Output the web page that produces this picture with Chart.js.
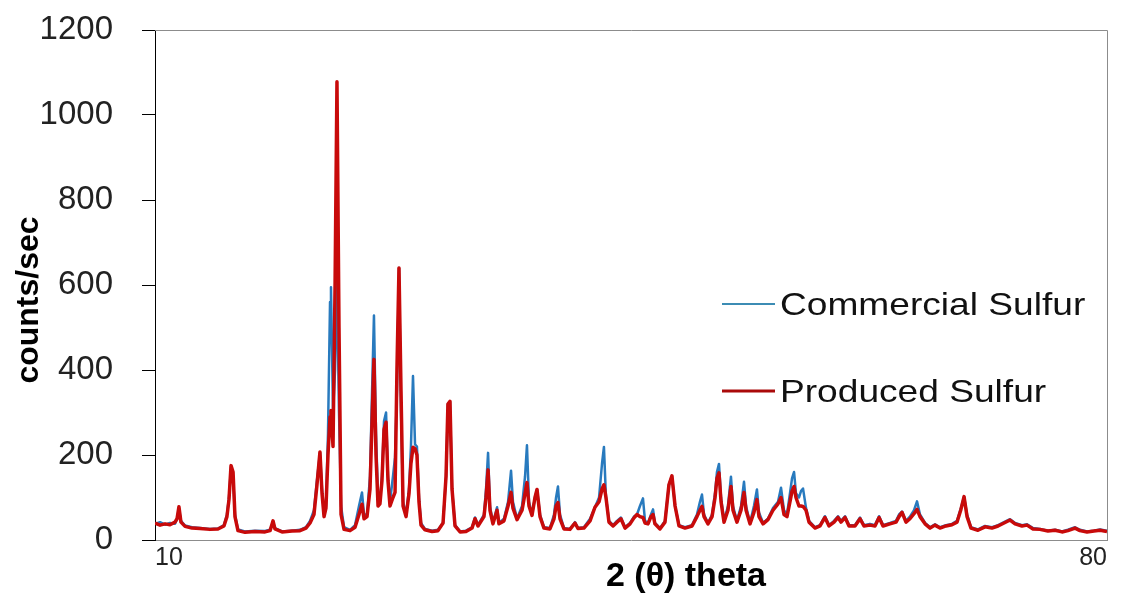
<!DOCTYPE html>
<html>
<head>
<meta charset="utf-8">
<script src="https://cdn.jsdelivr.net/npm/chart.js@4"></script>
<style>
  html, body { margin: 0; padding: 0; background: #fff; }
  #wrap { width: 1122px; height: 599px; position: relative; }
</style>
</head>
<body>
<div id="wrap"><canvas id="xrd"></canvas></div>
<script>
// 2 theta positions
const twoTheta = [
  10.00, 10.37, 10.74, 11.10, 11.47, 11.62, 11.76, 11.91, 12.21, 12.72, 13.31, 14.04, 14.63, 15.07, 15.29, 15.44,
  15.59, 15.74, 15.88, 16.10, 16.62, 17.35, 18.09, 18.46, 18.68, 18.82, 19.34, 20.07, 20.66, 21.10, 21.40, 21.69,
  21.91, 22.13, 22.28, 22.43, 22.57, 22.72, 22.87, 22.94, 23.09, 23.24, 23.38, 23.53, 23.68, 23.90, 24.34, 24.71,
  25.00, 25.22, 25.37, 25.59, 25.81, 25.96, 26.10, 26.25, 26.40, 26.54, 26.69, 26.84, 26.99, 27.13, 27.28, 27.50,
  27.65, 27.79, 27.94, 28.09, 28.24, 28.46, 28.68, 28.82, 28.97, 29.12, 29.26, 29.41, 29.56, 29.85, 30.37, 30.81,
  31.18, 31.40, 31.54, 31.69, 31.84, 32.06, 32.43, 32.87, 33.31, 33.53, 33.75, 34.19, 34.34, 34.49, 34.63, 34.85,
  35.15, 35.29, 35.66, 35.96, 36.18, 36.32, 36.62, 36.99, 37.21, 37.35, 37.50, 37.72, 37.94, 38.09, 38.31, 38.60,
  39.04, 39.34, 39.49, 39.63, 39.78, 40.07, 40.51, 40.88, 41.10, 41.54, 41.99, 42.35, 42.65, 42.87, 43.01, 43.16,
  43.38, 43.68, 43.97, 44.26, 44.56, 44.93, 45.22, 45.44, 45.66, 45.88, 46.03, 46.25, 46.47, 46.62, 46.76, 47.13,
  47.50, 47.79, 48.01, 48.24, 48.53, 48.97, 49.49, 49.85, 50.07, 50.22, 50.37, 50.66, 50.96, 51.18, 51.32, 51.47,
  51.62, 51.84, 52.13, 52.35, 52.50, 52.79, 53.09, 53.31, 53.46, 53.75, 54.04, 54.26, 54.41, 54.71, 55.07, 55.44,
  55.81, 56.03, 56.25, 56.47, 56.69, 56.84, 56.99, 57.13, 57.35, 57.50, 57.65, 57.87, 58.09, 58.53, 58.90, 59.26,
  59.56, 59.93, 60.22, 60.44, 60.74, 61.03, 61.47, 61.84, 62.13, 62.57, 62.94, 63.24, 63.53, 64.04, 64.49, 64.71,
  64.93, 65.22, 65.51, 65.81, 66.03, 66.25, 66.62, 66.99, 67.35, 67.72, 68.16, 68.60, 68.97, 69.26, 69.49, 69.71,
  70.00, 70.51, 71.03, 71.54, 71.99, 72.43, 72.87, 73.24, 73.75, 74.12, 74.56, 75.07, 75.66, 76.18, 76.69, 77.13,
  77.65, 78.01, 78.53, 79.04, 79.49, 80.00
];

const commercial = [
  38, 42, 36, 40, 38, 50, 75, 45, 34, 30, 28, 26, 27, 35, 60, 100,
  172, 150, 60, 25, 20, 22, 21, 24, 42, 28, 20, 22, 24, 30, 45, 70,
  140, 205, 120, 60, 80, 250, 560, 595, 300, 400, 610, 300, 80, 30, 24, 35,
  80, 112, 60, 60, 150, 350, 528, 250, 100, 90, 150, 280, 300, 150, 90, 150,
  195, 350, 640, 300, 90, 60, 120, 220, 386, 225, 220, 100, 40, 26, 22, 24,
  40, 150, 320, 326, 120, 35, 20, 22, 30, 53, 35, 60, 120, 205, 80, 40,
  77, 40, 50, 90, 163, 90, 50, 80, 150, 223, 90, 60, 100, 119, 60, 30,
  28, 60, 100, 126, 60, 28, 26, 42, 28, 30, 50, 77, 100, 180, 219, 100,
  45, 35, 45, 53, 30, 40, 55, 60, 80, 98, 45, 40, 60, 72, 40, 28,
  45, 130, 151, 80, 35, 30, 35, 60, 90, 107, 60, 40, 60, 110, 160, 179,
  100, 45, 80, 149, 80, 45, 80, 137, 80, 40, 80, 119, 65, 40, 50, 75,
  90, 123, 70, 60, 110, 145, 160, 110, 100, 115, 121, 75, 45, 30, 35, 56,
  35, 45, 56, 45, 56, 35, 35, 53, 35, 38, 35, 56, 35, 40, 45, 60,
  67, 45, 55, 70, 91, 60, 40, 30, 37, 30, 35, 38, 45, 75, 102, 60,
  30, 25, 33, 30, 35, 42, 49, 40, 35, 37, 28, 26, 22, 24, 20, 24,
  30, 24, 20, 22, 25, 22
];

const produced = [
  40, 35, 38, 36, 42, 50, 78, 42, 32, 28, 27, 25, 26, 33, 55, 95,
  175, 160, 55, 22, 18, 20, 19, 22, 45, 26, 19, 21, 22, 28, 40, 60,
  130, 207, 110, 55, 75, 200, 290, 305, 220, 600, 1078, 500, 60, 25, 22, 30,
  60, 84, 50, 55, 120, 280, 425, 200, 80, 85, 140, 260, 277, 140, 80, 100,
  112, 400, 640, 350, 80, 55, 110, 180, 218, 215, 200, 90, 35, 24, 20, 22,
  40, 150, 320, 326, 120, 33, 19, 20, 28, 50, 33, 55, 100, 165, 70, 38,
  70, 38, 45, 80, 112, 75, 48, 70, 110, 135, 80, 58, 100, 119, 55, 28,
  26, 50, 80, 88, 50, 26, 25, 40, 27, 28, 45, 77, 90, 120, 130, 100,
  42, 33, 42, 50, 28, 38, 52, 60, 55, 53, 40, 38, 55, 60, 38, 26,
  42, 130, 151, 80, 33, 28, 33, 55, 70, 79, 55, 38, 55, 100, 145, 158,
  90, 42, 70, 126, 70, 42, 70, 112, 70, 38, 65, 95, 55, 38, 48, 70,
  85, 100, 60, 55, 90, 115, 126, 100, 80, 80, 79, 70, 42, 28, 33, 53,
  33, 42, 53, 42, 53, 33, 33, 50, 33, 35, 33, 53, 33, 38, 42, 55,
  65, 42, 50, 62, 72, 55, 38, 28, 35, 28, 33, 36, 42, 72, 102, 55,
  28, 23, 31, 28, 33, 40, 47, 38, 33, 35, 26, 25, 21, 23, 19, 22,
  28, 22, 19, 21, 23, 20
];

const seriesNames = ['Commercial Sulfur', 'Produced Sulfur'];
const xTickLabels = [10, 80];
const yTickLabels = [0, 200, 400, 600, 800, 1000, 1200];

const blue = 'rgb(40,122,190)';
const red = 'rgb(200,10,10)';

// frame, axis titles and the in-plot legend
const decorations = {
    id: 'decorations',
    afterDraw: function (chart) {
        const ctx = chart.ctx;
        const a = chart.chartArea;
        ctx.save();
        ctx.strokeStyle = '#8c8c8c';
        ctx.lineWidth = 1;
        ctx.beginPath();
        ctx.moveTo(a.left, a.top + 0.5);
        ctx.lineTo(a.right + 0.5, a.top + 0.5);
        ctx.lineTo(a.right + 0.5, a.bottom);
        ctx.stroke();

        ctx.fillStyle = '#000';
        ctx.font = 'bold 34px "Liberation Sans", Arial, sans-serif';
        ctx.textAlign = 'center';
        ctx.textBaseline = 'middle';
        ctx.fillText('2 (\u03b8) theta', 686, 577);

        ctx.save();
        ctx.translate(29, 300);
        ctx.rotate(-Math.PI / 2);
        ctx.font = 'bold 32px "Liberation Sans", Arial, sans-serif';
        ctx.fillText('counts/sec', 0, 0);
        ctx.restore();

        const items = [
            { text: seriesNames[0], color: 'rgb(60,140,180)', width: 2, y: 304 },
            { text: seriesNames[1], color: 'rgb(170,10,10)', width: 3, y: 391 }
        ];
        items.forEach(function (it) {
            ctx.strokeStyle = it.color;
            ctx.lineWidth = it.width;
            ctx.beginPath();
            ctx.moveTo(722, it.y);
            ctx.lineTo(775, it.y);
            ctx.stroke();
            ctx.save();
            ctx.translate(780, it.y + 2);
            ctx.scale(1.16, 1);
            ctx.fillStyle = '#111';
            ctx.font = '32px "Liberation Sans", Arial, sans-serif';
            ctx.textAlign = 'left';
            ctx.fillText(it.text, 0, 0);
            ctx.restore();
        });
        ctx.restore();
    }
};

new Chart(document.getElementById('xrd'), {
    type: 'line',
    data: {
        datasets: [{
            label: seriesNames[0],
            data: twoTheta.map((t, i) => ({ x: t, y: commercial[i] })),
            borderColor: blue,
            borderWidth: 2.5,
            borderJoinStyle: 'round',
            pointRadius: 0,
            tension: 0,
            order: 2
        }, {
            label: seriesNames[1],
            data: twoTheta.map((t, i) => ({ x: t, y: produced[i] })),
            borderColor: red,
            borderWidth: 3.5,
            borderJoinStyle: 'round',
            pointRadius: 0,
            tension: 0,
            order: 1
        }]
    },
    options: {
        responsive: true,
        maintainAspectRatio: false,
        animation: false,
        layout: { padding: { top: 30, right: 15, left: 0, bottom: 0 } },
        plugins: {
            legend: { display: false },
            tooltip: { enabled: false }
        },
        scales: {
            x: {
                type: 'linear',
                min: 10,
                max: 80,
                afterBuildTicks: function (scale) {
                    scale.ticks = xTickLabels.map(v => ({ value: v }));
                },
                afterFit: function (scale) {
                    scale.height = 59;
                    scale.paddingLeft = 0;
                    scale.paddingRight = 0;
                },
                grid: { drawOnChartArea: false, drawTicks: false },
                border: { color: '#8c8c8c', width: 1 },
                ticks: {
                    align: 'inner',
                    maxRotation: 0,
                    padding: 3,
                    color: '#222',
                    font: { family: '"Liberation Sans", Arial, sans-serif', size: 25 },
                    callback: v => String(v)
                }
            },
            y: {
                min: 0,
                max: 1200,
                afterBuildTicks: function (scale) {
                    scale.ticks = yTickLabels.map(v => ({ value: v }));
                },
                afterFit: function (scale) {
                    scale.width = 155;
                    scale.paddingTop = 0;
                    scale.paddingBottom = 0;
                },
                grid: { drawOnChartArea: false, drawTicks: true, tickLength: 13, color: '#000' },
                border: { color: '#000', width: 1 },
                ticks: {
                    padding: 29,
                    color: '#222',
                    font: { family: '"Liberation Sans", Arial, sans-serif', size: 33 },
                    callback: v => String(v)
                }
            }
        }
    },
    plugins: [decorations]
});
</script>
</body>
</html>
